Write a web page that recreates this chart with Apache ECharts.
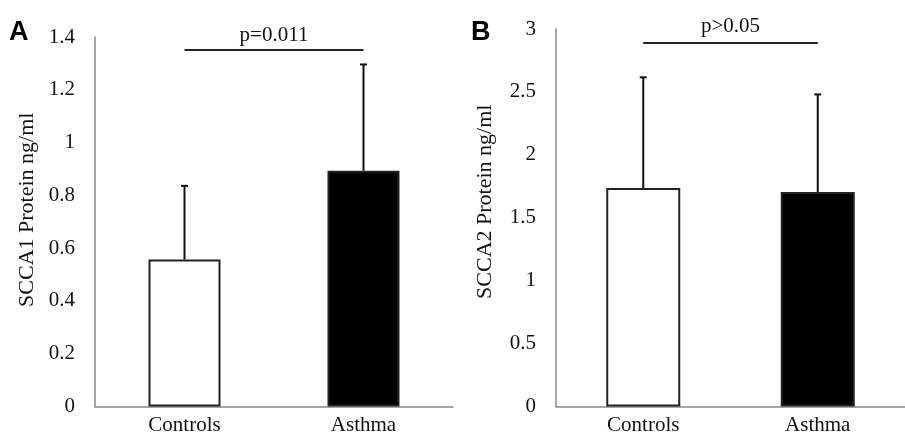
<!DOCTYPE html>
<html>
<head>
<meta charset="utf-8">
<script src="https://cdn.jsdelivr.net/npm/echarts@6/dist/echarts.min.js"></script>
<style>
  html, body { margin: 0; padding: 0; background: #fff; }
  #chart { width: 905px; height: 436px; }
</style>
</head>
<body>
<div id="chart"></div>
<script>
// groups on the x axis
const categories = ["Controls", "Asthma"];
// panel A: SCCA1 mean and SD (ng/ml)
const scca1Mean = [0.557, 0.893];
const scca1Sd = [0.279, 0.403];
// panel B: SCCA2 mean and SD (ng/ml)
const scca2Mean = [1.736, 1.704];
const scca2Sd = [0.88, 0.776];
// significance bars
const pTextA = "p=0.011";
const pLevelA = 1.35;
const pTextB = "p>0.05";
const pLevelB = 2.89;

const serif = "'Liberation Serif', 'Times New Roman', serif";
const barColors = ["#ffffff", "#000000"];

const myChart = echarts.init(document.getElementById("chart"));

// 误差线：只画上半段和横帽
function errorRender(params, api) {
  const cat = api.value(0);
  const base = api.coord([cat, api.value(1)]);
  const top = api.coord([cat, api.value(2)]);
  const half = 3.5;
  const style = { stroke: "#111", lineWidth: 2 };
  return {
    type: "group",
    children: [
      { type: "line", shape: { x1: base[0], y1: base[1], x2: top[0], y2: top[1] }, style },
      { type: "line", shape: { x1: top[0] - half, y1: top[1], x2: top[0] + half, y2: top[1] }, style },
    ],
  };
}

function errData(mean, sd) {
  return mean.map((m, i) => [i, m, m + sd[i]]);
}

function barData(mean) {
  return mean.map((v, i) => ({ value: v, itemStyle: { color: barColors[i] } }));
}

function sigLine(text, level, dist) {
  return {
    silent: true,
    symbol: "none",
    lineStyle: { color: "#222", width: 2, type: "solid" },
    label: {
      show: true,
      position: "middle",
      formatter: text,
      distance: dist,
      fontFamily: serif,
      fontSize: 21,
      color: "#111",
    },
    data: [[{ coord: [categories[0], level] }, { coord: [categories[1], level] }]],
  };
}

const xAxisCommon = {
  type: "category",
  data: categories,
  axisLine: { lineStyle: { color: "#888", width: 1.5 } },
  axisTick: { show: false },
  axisLabel: { fontFamily: serif, fontSize: 21, color: "#111", margin: 8 },
};

const yAxisCommon = {
  type: "value",
  min: 0,
  splitLine: { show: false },
  axisTick: { show: false },
  axisLine: { show: true, lineStyle: { color: "#888", width: 1.5 } },
  axisLabel: { fontFamily: serif, fontSize: 21, color: "#111", margin: 20 },
  nameLocation: "middle",
};

const option = {
  animation: false,
  backgroundColor: "#fff",
  grid: [
    { left: 95, top: 37, width: 358, bottom: 29.5 },
    { left: 556, top: 29, width: 364, bottom: 29.5 },
  ],
  xAxis: [
    Object.assign({ gridIndex: 0 }, xAxisCommon),
    Object.assign({ gridIndex: 1 }, xAxisCommon),
  ],
  yAxis: [
    Object.assign({}, yAxisCommon, {
      gridIndex: 0,
      max: 1.4,
      interval: 0.2,
      name: "SCCA1 Protein ng/ml",
      nameGap: 57,
      nameTextStyle: { fontFamily: serif, fontSize: 22, color: "#111", padding: [0, 0, 0, 24] },
    }),
    Object.assign({}, yAxisCommon, {
      gridIndex: 1,
      max: 3,
      interval: 0.5,
      name: "SCCA2 Protein ng/ml",
      nameGap: 60,
      nameTextStyle: { fontFamily: serif, fontSize: 22, color: "#111", padding: [0, 0, 0, 32] },
    }),
  ],
  graphic: [
    { type: "text", left: 9, top: 19, style: { text: "A", font: "bold 27px 'Liberation Sans', Arial, sans-serif", fill: "#000" } },
    { type: "text", left: 471, top: 19, style: { text: "B", font: "bold 27px 'Liberation Sans', Arial, sans-serif", fill: "#000" } },
  ],
  series: [
    {
      type: "bar",
      xAxisIndex: 0,
      yAxisIndex: 0,
      barWidth: 72,
      data: barData(scca1Mean),
      itemStyle: { borderColor: "#222", borderWidth: 2 },
      markLine: sigLine(pTextA, pLevelA, 4),
    },
    {
      type: "custom",
      xAxisIndex: 0,
      yAxisIndex: 0,
      renderItem: errorRender,
      data: errData(scca1Mean, scca1Sd),
      z: 3,
    },
    {
      type: "bar",
      xAxisIndex: 1,
      yAxisIndex: 1,
      barWidth: 74,
      data: barData(scca2Mean),
      itemStyle: { borderColor: "#222", borderWidth: 2 },
      markLine: sigLine(pTextB, pLevelB, 6),
    },
    {
      type: "custom",
      xAxisIndex: 1,
      yAxisIndex: 1,
      renderItem: errorRender,
      data: errData(scca2Mean, scca2Sd),
      z: 3,
    },
  ],
};

myChart.setOption(option);
</script>
</body>
</html>
